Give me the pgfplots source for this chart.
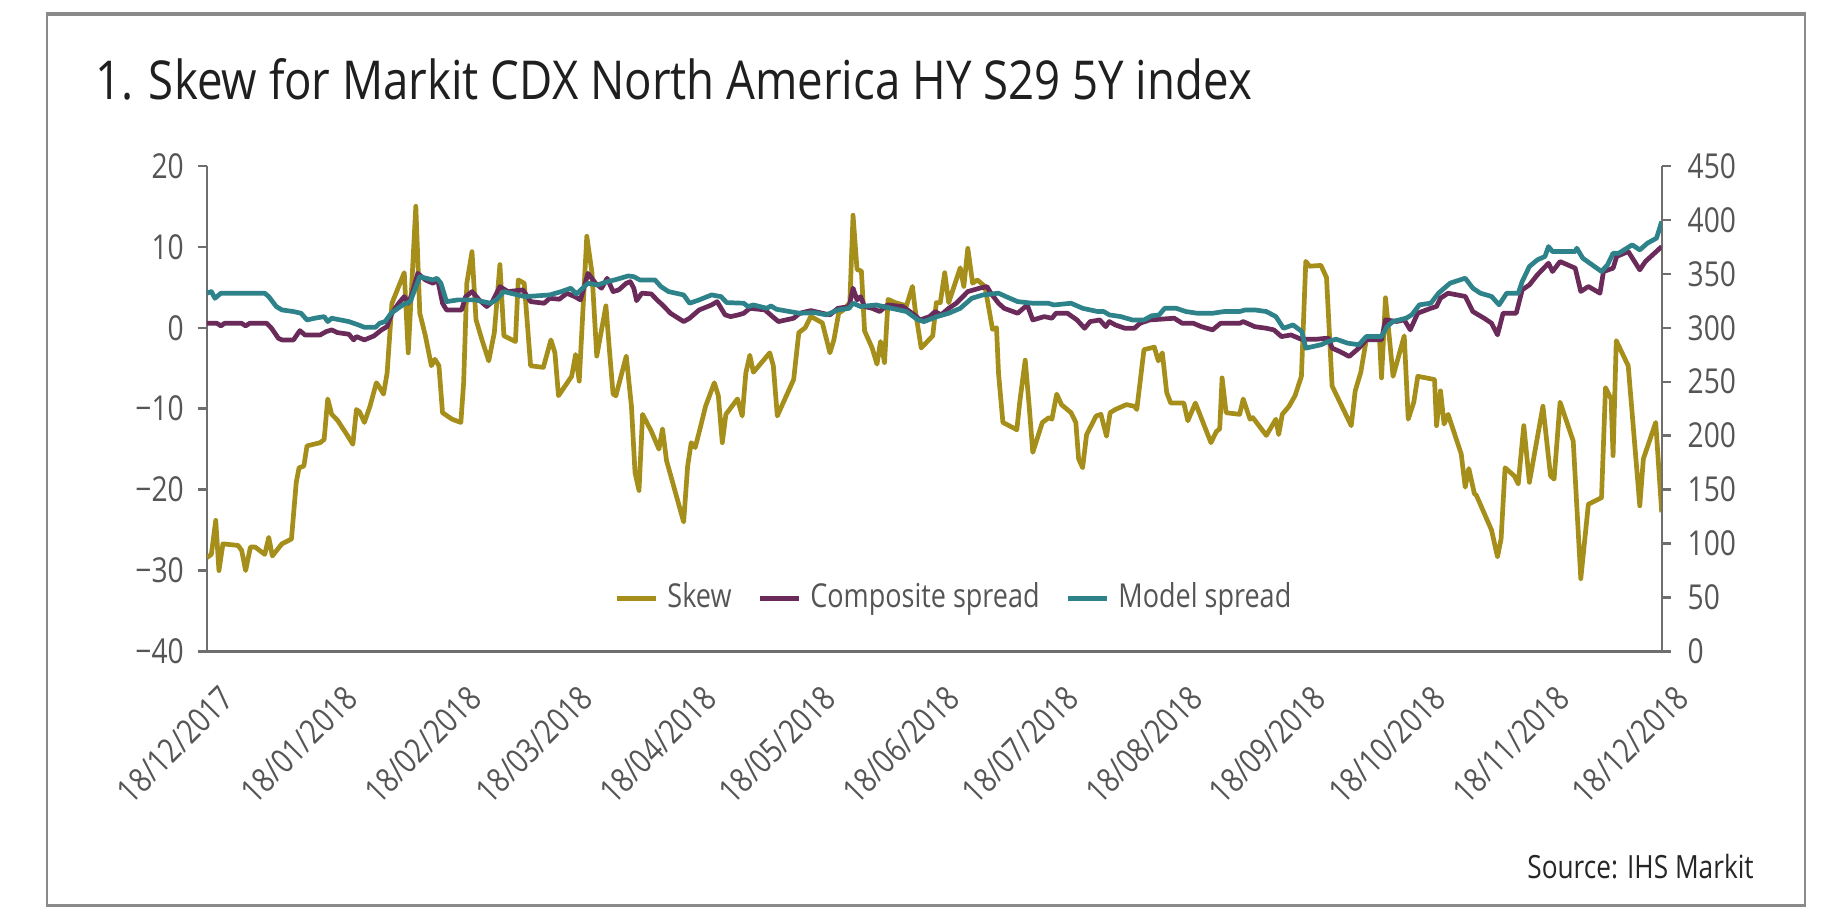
\documentclass[border=0pt]{standalone}
\usepackage{fontspec}
\setmainfont{Open Sans}[FakeStretch=0.82]
\newfontfamily\titlefont{Open Sans}[FakeStretch=0.85]
\usepackage{pgfplots}
\pgfplotsset{compat=1.18}
\definecolor{skewc}{HTML}{A58E1A}
\definecolor{compc}{HTML}{6A2B5A}
\definecolor{modelc}{HTML}{2E838A}
\definecolor{axgray}{HTML}{6E6E6E}
\definecolor{txtgray}{HTML}{555555}
\definecolor{framegray}{HTML}{8A8A8A}
\begin{document}
\begin{tikzpicture}
\useasboundingbox (-44pt,-57pt) rectangle (348pt,138.5pt);
\fill[white] (-44pt,-57pt) rectangle (348pt,138.5pt);
\draw[framegray, line width=0.4pt] (-34pt,-54pt) -- (-34pt,135.5pt);
\draw[framegray, line width=0.4pt] (339.75pt,-54pt) -- (339.75pt,135.5pt);
\draw[framegray, line width=0.8pt] (-34.2pt,135.5pt) -- (339.95pt,135.5pt);
\draw[framegray, line width=0.8pt] (-34.2pt,-54pt) -- (339.95pt,-54pt);
\node[anchor=base west, font=\titlefont\fontsize{11.4}{13}\selectfont, text=black!88, inner sep=0pt] at (-24pt,117.25pt) {1. Skew for Markit CDX North America HY S29 5Y index};
\node[anchor=base east, font=\fontsize{6.8}{8}\selectfont, text=black!85, inner sep=0pt] at (329pt,-48.25pt) {Source: IHS Markit};

\begin{axis}[
 scale only axis, width=309.25pt, height=103.25pt, at={(0,0)}, anchor=south west,
 xmin=0, xmax=365, ymin=-40, ymax=20,
 axis x line*=bottom, axis y line*=left,
 x axis line style={line width=0.75pt, color=axgray},
 y axis line style={line width=0.5pt, color=axgray},
 xtick={0,31,62,90,121,151,182,212,243,274,304,335,365},
 xticklabels={18/12/2017,18/01/2018,18/02/2018,18/03/2018,18/04/2018,18/05/2018,18/06/2018,18/07/2018,18/08/2018,18/09/2018,18/10/2018,18/11/2018,18/12/2018},
 x tick label style={rotate=45, anchor=north east, font=\fontsize{7.2}{8}\selectfont, text=txtgray, inner sep=0pt, xshift=-1.45pt, yshift=-5pt},
 x tick style={draw=none},
 ytick={-40,-30,-20,-10,0,10,20},
 yticklabels={−40,−30,−20,−10,0,10,20},
 y tick label style={font=\fontsize{7.3}{8}\selectfont, text=txtgray, xshift=0.6pt},
 y tick style={line width=0.5pt, color=axgray},
 tick align=outside, major tick length=2pt,
]
\addplot[skewc, line width=1pt, line join=round] coordinates {
(0,-28.4) (1.1,-28.0) (2.2,-23.8) (3.0,-30.0) (4.0,-26.7) (6,-26.8) (7.8,-26.9) (8.7,-27.5) (9.7,-30.0) (10.9,-27.1) (12.1,-27.1) (14.5,-28.0) (15.5,-25.9) (16.4,-28.2) (18.8,-26.7) (21.2,-26.1) (22.4,-19.1) (23.1,-17.3) (24.3,-17.1) (25.1,-14.6) (28.4,-14.2) (29.4,-13.8) (30.3,-8.8) (31.3,-10.7) (32.7,-11.4) (35.1,-13.2) (36.6,-14.4) (37.5,-10.1) (38.3,-10.4) (39.5,-11.7) (40.9,-9.7) (42.5,-6.8) (43.1,-7.2) (44.3,-8.2) (45.2,-5.6) (46.4,3.0) (48.1,5.1) (49.5,6.8) (50.5,-3.1) (52.4,15.0) (53.4,1.8) (54.8,-1.0) (56.3,-4.7) (57.2,-3.9) (58.2,-4.7) (59.1,-10.5) (61.5,-11.3) (63.7,-11.7) (64.4,-6.8) (65.2,5.5) (66.5,9.4) (67.5,1.0) (69.0,-1.5) (70.7,-4.1) (72.1,-0.6) (73.5,7.8) (74.5,-1.0) (77.4,-1.7) (78.1,5.9) (79.6,5.5) (81.2,-4.7) (84.4,-4.9) (86.3,-1.5) (87.3,-3.1) (88.2,-8.4) (91.5,-6.0) (92.5,-3.3) (93.4,-6.6) (95.3,11.3) (96.6,6.8) (97.8,-3.5) (100.1,2.7) (101.1,-3.5) (101.9,-8.2) (102.6,-8.4) (105.2,-3.5) (106.5,-9.7) (107.4,-17.9) (108.4,-20.1) (109.3,-10.7) (111.5,-12.8) (113.4,-15.0) (114.3,-12.5) (115.3,-16.4) (119.6,-24.0) (120.6,-17.1) (121.5,-14.2) (122.5,-14.8) (123.7,-12.5) (125.1,-9.7) (127.3,-6.8) (128.3,-8.4) (129.3,-14.2) (130.2,-10.7) (133.1,-8.8) (134.3,-10.9) (135.2,-5.6) (136.2,-3.4) (137.1,-5.5) (141.2,-3.1) (142.1,-4.7) (143.1,-10.9) (147.2,-6.4) (148.5,-0.6) (150.1,0.0) (151.5,1.4) (154.4,0.6) (156.3,-3.1) (157.3,-1.5) (158.5,1.8) (159.7,2.2) (161.3,3.1) (162.1,13.9) (163.1,7.2) (164.2,7.0) (165.0,-0.4) (166.9,-2.5) (168.1,-4.5) (169.0,-1.7) (170.0,-4.3) (170.9,3.5) (172.7,3.1) (175.5,2.7) (177.0,5.1) (177.7,2.2) (179.2,-2.5) (182.1,-1.0) (183.0,3.1) (184.0,3.1) (185.1,6.8) (186.1,3.1) (189.0,7.4) (189.9,5.1) (190.9,9.8) (192.1,5.5) (193.3,5.9) (195.2,5.1) (197.1,-0.2) (198.1,0.0) (198.6,-5.6) (199.7,-11.7) (203.2,-12.6) (203.9,-9.3) (205.3,-4.0) (206.3,-9.7) (207.2,-15.4) (209.6,-11.7) (211.3,-11.1) (212.0,-11.3) (213.2,-8.2) (214.4,-9.5) (216.8,-10.5) (218.0,-11.7) (218.7,-16.2) (219.7,-17.3) (220.7,-13.2) (223.1,-10.9) (224.3,-10.7) (225.7,-13.4) (226.6,-10.5) (227.9,-10.1) (230.7,-9.5) (232.7,-9.7) (233.3,-10.1) (235.1,-2.7) (237.7,-2.4) (238.7,-4.1) (239.7,-3.1) (240.8,-8.0) (241.8,-9.3) (245.1,-9.3) (246.1,-11.5) (248.0,-9.3) (251.9,-14.2) (253.3,-12.8) (254.1,-12.5) (254.7,-6.2) (255.7,-10.5) (259.1,-10.7) (260.0,-8.8) (261.7,-11.3) (262.4,-11.1) (265.8,-13.3) (268.2,-11.3) (268.9,-13.2) (269.8,-10.7) (271.5,-9.7) (273.0,-8.4) (274.6,-6.0) (275.7,8.2) (276.6,7.6) (279.5,7.7) (280.9,6.2) (282.3,-7.2) (287.1,-12.1) (288.1,-7.8) (289.5,-5.5) (290.9,-1.4) (294.2,-1.4) (294.7,-6.2) (295.7,3.7) (297.6,-6.0) (300.4,-1.0) (301.4,-11.3) (302.8,-9.2) (303.8,-6.0) (308.0,-6.4) (308.5,-12.1) (309.5,-7.8) (310.4,-11.9) (311.4,-10.7) (314.7,-15.6) (315.7,-19.7) (316.6,-17.4) (318.0,-20.5) (318.5,-20.7) (322.3,-25.0) (323.8,-28.3) (324.7,-26.1) (325.7,-17.3) (328.0,-18.3) (329.0,-19.3) (330.4,-12.1) (331.8,-19.1) (335.2,-9.7) (337.1,-18.3) (338.0,-18.7) (339.5,-9.2) (342.8,-14.0) (344.7,-31.0) (346.6,-21.8) (349.9,-21.0) (350.9,-7.4) (352.3,-8.8) (352.8,-15.8) (353.6,-1.6) (356.6,-4.7) (359.5,-22.0) (360.4,-16.2) (363.5,-11.7) (365,-22.8)
};
\end{axis}

\begin{axis}[
 scale only axis, width=309.25pt, height=103.25pt, at={(0,0)}, anchor=south west,
 xmin=0, xmax=365, ymin=0, ymax=450,
 axis x line=none, axis y line*=right,
 y axis line style={line width=0.5pt, color=axgray},
 ytick={0,50,...,450},
 /pgf/number format/assume math mode=true,
 y tick label style={font=\fontsize{7.3}{8}\selectfont, text=txtgray},
 y tick style={line width=0.5pt, color=axgray},
 tick align=outside, major tick length=2pt,
 legend columns=3,
 legend style={draw=none, fill=none, at={(0.516,0.109)}, anchor=center, font=\fontsize{7.0}{8}\selectfont, text=txtgray, inner sep=0pt,
   /tikz/every even column/.append style={column sep=3.5pt}},
 legend image code/.code={\draw[#1, line width=1pt] (0pt,0pt) -- (8.25pt,0pt);},
]
\addlegendimage{skewc, line width=1pt}
\addlegendentry{Skew}
\addplot[compc, line width=1pt, line join=round] coordinates {
(0,304.1) (2.5,304.1) (3.5,301.7) (4.4,304.1) (8.7,304.1) (9.7,301.7) (10.7,304.1) (15.0,304.1) (16.2,299.5) (17.9,290.3) (18.8,288.7) (21.7,288.7) (23.3,297.3) (24.6,293.3) (28.4,293.3) (29.9,296.4) (31.3,298.0) (32.7,295.5) (35.6,294.0) (36.8,288.7) (37.5,291.8) (39.5,288.7) (41.9,292.4) (43.8,298.0) (45.2,301.1) (46.4,313.4) (48.1,322.7) (49.5,328.8) (50.5,322.7) (51.5,331.9) (52.9,350.4) (54.8,344.3) (56.7,341.2) (57.9,344.3) (59.1,322.7) (60.1,316.5) (63.9,316.5) (64.9,328.8) (66.5,333.5) (68.3,325.8) (70.2,319.6) (71.6,324.2) (73.5,338.1) (75.5,333.5) (79.3,335.0) (81.2,324.2) (84.6,322.7) (86.0,327.3) (88.4,326.4) (90.3,331.9) (92.3,328.8) (93.7,325.8) (95.6,350.4) (97.5,341.2) (99.0,336.6) (100.4,345.8) (101.9,333.5) (103.3,335.0) (105.2,341.2) (106.2,342.7) (107.1,336.6) (107.8,325.1) (109.1,332.0) (111.5,331.3) (112.9,325.8) (114.3,321.1) (116.3,313.4) (119.6,305.7) (121.1,308.8) (123.5,316.5) (126.6,321.1) (128.0,324.2) (130.0,311.9) (131.4,310.3) (133.3,311.9) (134.7,313.4) (136.2,318.0) (140.0,316.5) (141.9,310.3) (143.4,305.7) (147.2,308.8) (148.7,313.4) (151.5,315.9) (154.4,313.4) (156.3,311.9) (158.3,318.0) (161.1,319.6) (162.1,336.6) (163.1,325.8) (164.0,328.8) (165.0,319.6) (166.9,318.0) (168.8,315.0) (170.7,321.1) (174.6,319.6) (177.5,311.9) (178.9,307.2) (181.3,310.3) (182.7,315.0) (184.2,311.9) (186.1,318.0) (188.0,322.7) (190.9,333.5) (193.8,336.6) (195.7,338.1) (196.7,331.9) (198.6,322.7) (200.0,318.0) (203.4,313.4) (205.8,321.1) (207.2,307.2) (210.1,310.3) (212.0,308.8) (213.0,313.4) (215.9,313.4) (218.3,307.2) (220.2,299.5) (221.6,305.7) (224.0,307.2) (225.5,301.0) (226.4,305.7) (227.9,302.6) (230.3,299.5) (232.7,299.5) (234.1,304.1) (236.5,307.2) (242.7,308.8) (244.7,304.1) (247.5,304.1) (249.5,301.0) (252.3,298.0) (254.3,304.1) (259.1,304.1) (260.0,305.7) (262.9,301.0) (265.8,299.5) (267.7,298.0) (269.6,291.8) (272.0,293.3) (274.5,289.4) (278.5,289.4) (281.4,290.4) (282.3,281.1) (284.2,278.0) (286.6,273.4) (289.0,281.1) (290.9,288.8) (294.7,288.8) (295.7,307.3) (298.5,305.8) (300.4,307.3) (301.9,298.1) (303.8,313.5) (307.1,318.1) (308.5,319.7) (309.5,327.4) (311.4,332.0) (315.7,329.0) (317.6,315.0) (320.4,308.9) (322.3,304.2) (323.8,293.4) (325.2,313.5) (328.5,313.5) (330.0,335.1) (331.8,339.7) (333.8,349.0) (336.6,359.8) (337.6,352.1) (339.5,361.3) (343.3,355.2) (344.7,333.6) (346.6,338.2) (349.5,332.0) (350.4,352.1) (352.8,355.2) (353.7,366.0) (356.6,370.6) (359.5,353.6) (360.9,361.3) (365,375.2)
};
\addlegendentry{Composite spread}
\addplot[modelc, line width=1pt, line join=round] coordinates {
(0,332.0) (1.1,333.5) (2.0,327.3) (3.5,332.0) (14.5,332.0) (15.5,328.8) (17.4,319.6) (18.8,316.5) (21.7,315.0) (23.6,313.4) (25.1,307.2) (27.0,308.8) (29.4,310.3) (30.3,305.7) (31.3,308.8) (35.6,305.7) (38.0,302.6) (39.5,300.4) (42.3,300.4) (43.3,304.1) (44.7,305.7) (46.2,313.4) (49.1,321.1) (51.0,324.2) (53.4,347.3) (56.7,344.3) (57.7,345.8) (58.7,341.2) (60.1,324.2) (63.0,325.8) (67.3,325.8) (71.1,322.7) (72.6,325.8) (74.5,333.5) (77.9,330.4) (79.8,328.8) (86.0,330.4) (88.9,333.5) (91.3,336.6) (92.7,331.3) (95.6,341.2) (98.0,339.6) (100.4,342.7) (102.3,344.3) (105.7,348.0) (107.1,347.3) (108.6,344.3) (112.4,344.3) (113.9,338.1) (115.8,333.5) (119.6,330.4) (121.1,322.7) (123.5,325.8) (126.6,330.4) (129.0,328.8) (130.4,323.3) (134.7,322.7) (135.7,319.6) (137.1,321.1) (140.5,318.0) (141.5,320.2) (142.9,317.1) (148.7,313.4) (152.5,314.0) (155.4,311.9) (158.3,316.5) (161.1,318.0) (162.1,322.7) (164.0,319.6) (167.9,321.1) (171.7,318.0) (175.5,315.0) (178.4,307.2) (179.9,305.7) (183.2,310.3) (186.1,313.4) (189.0,318.0) (191.9,327.3) (194.7,330.4) (198.6,332.0) (200.5,328.8) (203.4,324.2) (207.2,322.7) (211.1,322.7) (212.5,321.1) (216.8,322.7) (219.7,318.0) (223.5,315.0) (225.0,315.0) (226.4,311.9) (229.3,310.3) (232.2,307.2) (235.1,307.2) (237.0,311.0) (238.9,311.9) (240.3,318.0) (243.2,318.0) (245.6,315.0) (248.5,313.4) (252.3,313.4) (255.2,315.0) (259.1,315.0) (260.5,316.5) (262.9,316.5) (265.8,315.0) (268.2,310.3) (270.1,299.5) (272.5,302.6) (274.7,296.5) (275.7,281.1) (279.5,284.2) (281.4,287.3) (283.3,289.4) (286.2,285.7) (289.0,284.2) (290.9,291.9) (294.7,291.9) (296.1,301.2) (297.6,305.8) (300.9,308.9) (302.3,312.0) (304.2,321.2) (307.1,322.8) (309.0,332.0) (311.9,341.3) (315.7,345.9) (317.6,336.7) (319.5,332.0) (322.3,329.0) (324.2,321.2) (326.1,332.0) (329.0,332.0) (330.0,342.8) (331.8,356.7) (333.8,362.9) (335.7,366.0) (336.6,375.2) (337.6,370.6) (343.3,370.6) (343.7,373.7) (345.2,364.4) (349.9,352.1) (351.4,358.3) (352.8,369.0) (354.2,369.0) (357.6,376.8) (359.5,372.1) (361.4,378.3) (363.7,383.0) (365,398.4)
};
\addlegendentry{Model spread}
\end{axis}
\end{tikzpicture}
\end{document}
